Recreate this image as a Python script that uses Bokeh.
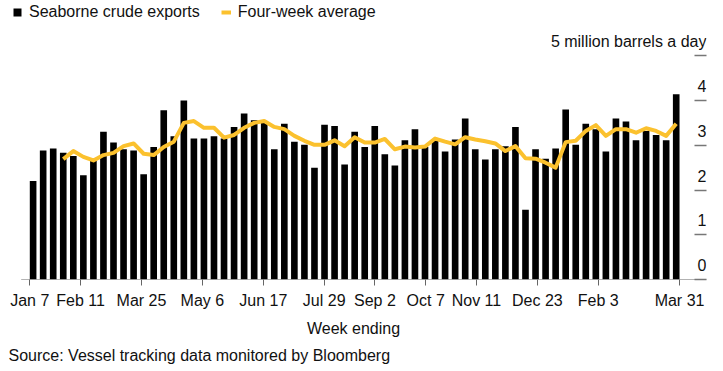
import numpy as np
import pandas as pd
from bokeh.plotting import figure
from bokeh.models import Range1d, FixedTicker, Legend, LegendItem, Title
from bokeh.core.properties import value
from bokeh.embed import file_html
from bokeh.resources import INLINE

# ---- data ----
weeks = pd.date_range("2018-01-07", periods=65, freq="7D")
exports = [2.20, 2.88, 2.93, 2.83, 2.76, 2.33, 2.65, 3.30, 3.06, 2.91,
           2.88, 2.35, 2.96, 3.78, 3.20, 4.00, 3.15, 3.15, 3.20, 3.15,
           3.41, 3.71, 3.56, 3.54, 2.91, 3.48, 3.08, 3.01, 2.50, 3.46,
           3.43, 2.57, 3.30, 2.96, 3.43, 2.80, 2.55, 3.11, 3.36, 2.96,
           3.10, 2.86, 3.13, 3.60, 2.91, 2.68, 2.91, 2.98, 3.41, 1.56,
           2.91, 2.70, 2.93, 3.80, 3.01, 3.48, 3.36, 2.86, 3.60, 3.53,
           3.11, 3.32, 3.23, 3.11, 4.14]
four_week_avg = [None, None, None, 2.69, 2.87, 2.74, 2.66, 2.78, 2.83, 2.98,
                 3.04, 2.81, 2.78, 2.96, 3.08, 3.50, 3.54, 3.39, 3.39, 3.17,
                 3.23, 3.39, 3.50, 3.54, 3.41, 3.36, 3.21, 3.10, 3.01, 3.01,
                 3.11, 2.98, 3.18, 3.06, 3.06, 3.14, 2.91, 2.97, 2.95, 2.97,
                 3.15, 3.08, 3.02, 3.18, 3.13, 3.09, 3.04, 2.87, 2.98, 2.71,
                 2.70, 2.61, 2.50, 3.07, 3.10, 3.32, 3.45, 3.21, 3.36, 3.36,
                 3.28, 3.38, 3.32, 3.21, 3.48]
x_tick_labels = ["Jan 7", "Feb 11", "Mar 25", "May 6", "Jun 17", "Jul 29",
                 "Sep 2", "Oct 7", "Nov 11", "Dec 23", "Feb 3", "Mar 31"]
y_ticks = [0, 1, 2, 3, 4, 5]
y_tick_labels = ["0", "1", "2", "3", "4", "5 million barrels a day"]

FONT = "Liberation Sans"
YELLOW = "#fbc12e"
TXT = "#111111"
GREY = "#666666"

# ---- positions (band scale spanning first..last week) ----
n = len(exports)
week_labels = [f"{d:%b} {d.day}" for d in weeks]
tick_pos = [week_labels.index(l) for l in x_tick_labels]
pad = 0.34
step = (n - 1) / (n - pad)
bw = step * (1 - pad)
centers = [float(i * step + bw / 2) for i in range(n)]
avg_x = [c for c, v in zip(centers, four_week_avg) if v is not None]
avg_y = [v for v in four_week_avg if v is not None]

# ---- layout (frame covers top/left so legend and labels are not clipped) ----
W, H = 723, 371
ML, MR, MT, MB = 0, 17, 0, 92
frame_w, frame_h = W - ML - MR, H - MT - MB
ppx = 10.152            # pixels per week
ppy = 44.75             # pixels per million barrels
x_start = -29.3 / ppx
x_end = x_start + frame_w / ppx
y_end = frame_h / ppy
axis_x0 = x_start + 20.7 / ppx   # where the baseline starts

p = figure(width=W, height=H, x_range=Range1d(x_start, x_end),
           y_range=Range1d(0, y_end), output_backend="svg",
           toolbar_location=None, y_axis_location="right",
           min_border_left=ML, min_border_right=MR,
           min_border_top=MT, min_border_bottom=MB)
p.outline_line_color = None
p.xgrid.visible = False
p.ygrid.visible = False
p.background_fill_color = "white"
p.border_fill_color = "white"

bars = p.vbar(x=centers, top=exports, width=bw, fill_color="black",
              line_color=None)
line = p.line(x=avg_x, y=avg_y, line_color=YELLOW, line_width=4,
              line_join="round")
# baseline (x axis line)
p.segment(x0=[axis_x0], x1=[x_end], y0=[0], y1=[0], line_color=GREY,
          line_width=1)

# x axis
xa = p.xaxis[0]
xa.ticker = FixedTicker(ticks=tick_pos)
xa.major_label_overrides = {t: l for t, l in zip(tick_pos, x_tick_labels)}
xa.axis_line_color = None
xa.major_tick_line_color = GREY
xa.major_tick_out = 6
xa.major_tick_in = 0
xa.minor_tick_line_color = None
xa.major_label_text_font = FONT
xa.major_label_text_font_size = "16px"
xa.major_label_text_color = TXT
xa.major_label_standoff = 6
xa.axis_label = "Week ending"
xa.axis_label_text_font = FONT
xa.axis_label_text_font_size = "16px"
xa.axis_label_text_font_style = "normal"
xa.axis_label_text_color = TXT
xa.axis_label_standoff = 8

# y axis (right, ticks only)
ya = p.yaxis[0]
ya.ticker = FixedTicker(ticks=y_ticks)
ya.axis_line_color = None
ya.major_tick_in = 12
ya.major_tick_out = 0
ya.major_tick_line_color = "#777777"
ya.major_tick_line_width = 1.5
ya.minor_tick_line_color = None
ya.major_label_text_alpha = 0
ya.major_label_text_font_size = "8px"
ya.major_label_standoff = 0

# y tick labels sit above their tick marks
p.text(x=[x_end] * len(y_ticks), y=[t + 14.5 / ppy for t in y_ticks],
       text=y_tick_labels, text_align="right", text_baseline="middle",
       text_font=value(FONT), text_font_size="16px", text_color=TXT)

legend = Legend(items=[LegendItem(label="Seaborne crude exports", renderers=[bars]),
                       LegendItem(label="Four-week average", renderers=[line])],
                orientation="horizontal", location=(12, frame_h - 22),
                glyph_width=10, glyph_height=10, label_standoff=7,
                spacing=21, padding=0, margin=0, border_line_color=None,
                background_fill_alpha=0, label_text_font=FONT,
                label_text_font_size="16px", label_text_color=TXT,
                label_height=20)
p.add_layout(legend)

src = Title(text="Source: Vessel tracking data monitored by Bloomberg",
            align="left", text_font=FONT, text_font_size="16px",
            text_font_style="normal", text_color=TXT, offset=8, standoff=10)
p.add_layout(src, "below")

open("out.html", "w").write(file_html(p, INLINE))
